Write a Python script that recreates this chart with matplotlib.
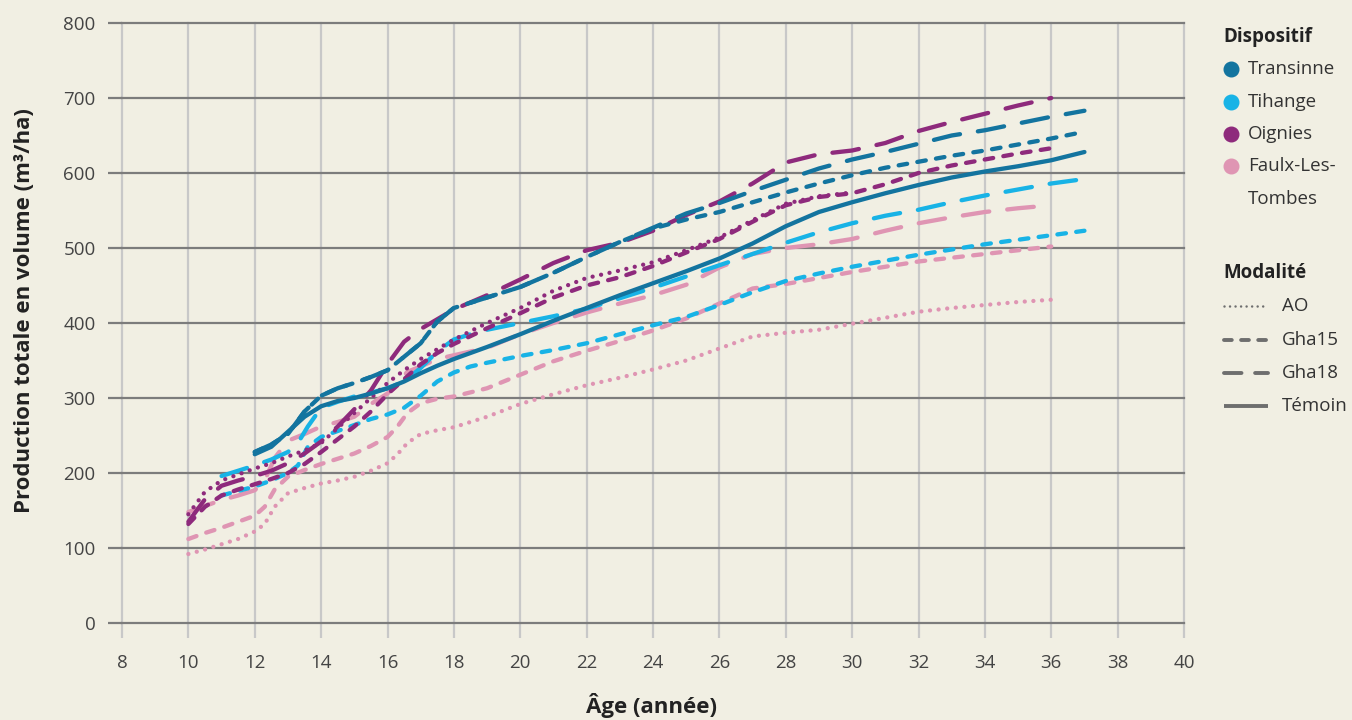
import matplotlib.pyplot as plt
from matplotlib.lines import Line2D

# --- data (age in years, volume in m3/ha) ---
tr_age = [12, 12.5, 13, 13.5, 14, 14.5, 15, 15.5, 16, 16.5, 17, 17.5, 18, 19, 20, 21, 22, 23, 24,
          25, 26, 27, 28, 29, 30, 31, 32, 33, 34, 35, 36, 37]
tr_gha15 = [228, 238, 252, 282, 303, 313, 320, 328, 337, 355, 373, 402, 420, 434, 448, 467, 488, 508, 526,
            538, 548, 561, 574, 586, 597, 607, 615, 623, 630, 638, 646, 655]
tr_gha18 = [228, 238, 252, 282, 303, 313, 320, 328, 337, 355, 373, 402, 420, 434, 448, 467, 488, 508, 527,
            546, 560, 576, 591, 606, 618, 628, 639, 650, 657, 666, 675, 683]
tr_temoin = [225, 235, 255, 275, 289, 296, 300, 306, 313, 322, 333, 343, 352, 368, 385, 403, 420, 437, 453,
             469, 486, 506, 529, 548, 561, 573, 584, 594, 602, 609, 617, 628]

ti_age = [11, 11.5, 12, 12.5, 13, 13.3, 13.6, 14, 14.5, 15, 15.5, 16, 16.5, 17, 17.5, 18, 18.5,
          19, 20, 21, 22, 23, 24, 25, 26, 27, 28, 29, 30, 31, 32, 33, 34, 35, 36, 37]
ti_gha15 = [170, 176, 182, 190, 200, 210, 235, 248, 256, 264, 272, 278, 287, 303, 322, 334, 342,
            347, 356, 364, 373, 385, 397, 408, 424, 441, 456, 466, 475, 483, 491, 498, 505, 511, 517, 523]
ti_gha18 = [196, 203, 210, 218, 228, 240, 262, 287, 295, 302, 307, 313, 322, 340, 362, 378, 385,
            391, 400, 409, 419, 433, 447, 462, 477, 492, 507, 521, 533, 543, 551, 561, 570, 578, 586, 592]

oi_age = [10, 10.5, 11, 11.5, 12, 12.5, 13, 13.5, 14, 14.5, 15, 15.5, 16, 16.5, 17, 17.5, 18,
          19, 20, 21, 22, 23, 24, 25, 26, 27, 28, 29, 30, 31, 32, 33, 34, 35, 36]
oi_gha18 = [135, 165, 183, 190, 196, 203, 213, 226, 242, 262, 285, 310, 345, 375, 392, 405, 418,
            437, 458, 480, 497, 507, 523, 544, 562, 586, 614, 625, 630, 640, 656, 668, 679, 690, 700]
oi_gha15 = [132, 155, 170, 178, 185, 192, 200, 212, 228, 245, 262, 282, 305, 325, 345, 360, 372,
            393, 413, 434, 450, 461, 476, 494, 512, 535, 557, 568, 573, 585, 600, 610, 618, 626, 633]
oi_ao_age = [10, 10.5, 11, 11.5, 12, 12.5, 13, 13.5, 14, 14.5, 15, 15.5, 16, 16.5, 17, 17.5, 18,
             19, 20, 21, 22, 23, 24, 25, 26, 27, 28, 29, 30]
oi_ao = [145, 175, 190, 198, 206, 213, 222, 230, 240, 260, 280, 300, 320, 337, 352, 365, 378,
         400, 420, 443, 460, 470, 481, 497, 514, 537, 559, 569, 574]

fa_age = [10, 10.5, 11, 11.5, 12, 12.3, 12.6, 13, 13.5, 14, 14.5, 15, 15.5, 16, 16.3, 16.6, 17, 17.5, 18,
          19, 20, 21, 22, 23, 24, 25, 26, 27, 28, 29, 30, 31, 32, 33, 34, 35, 36]
fa_ao = [92, 98, 105, 112, 122, 132, 155, 173, 180, 186, 190, 195, 203, 213, 225, 240, 252, 257, 261,
         275, 292, 305, 317, 327, 338, 350, 366, 382, 387, 391, 399, 407, 415, 420, 424, 428, 431]
fa_gha15 = [112, 120, 127, 135, 143, 155, 178, 195, 204, 212, 219, 226, 236, 248, 262, 280, 293, 299, 302,
            313, 331, 349, 363, 376, 390, 406, 426, 446, 452, 460, 468, 475, 482, 487, 492, 497, 502]
fa_gha18 = [148, 156, 164, 170, 177, 190, 220, 243, 252, 262, 268, 275, 292, 306, 320, 335, 342, 352, 357,
            367, 385, 400, 414, 426, 437, 451, 474, 492, 500, 505, 512, 523, 533, 541, 548, 553, 557]

sites = ["Transinne", "Tihange", "Oignies", "Faulx-Les-\nTombes"]
site_colors = ["#13749f", "#18b3e6", "#8e2a7c", "#df95b3"]
modalites = ["AO", "Gha15", "Gha18", "Témoin"]

series = [
    (fa_age, fa_ao, 3, "AO"),
    (fa_age, fa_gha15, 3, "Gha15"),
    (fa_age, fa_gha18, 3, "Gha18"),
    (ti_age, ti_gha15, 1, "Gha15"),
    (ti_age, ti_gha18, 1, "Gha18"),
    (oi_ao_age, oi_ao, 2, "AO"),
    (oi_age, oi_gha15, 2, "Gha15"),
    (oi_age, oi_gha18, 2, "Gha18"),
    (tr_age, tr_temoin, 0, "Témoin"),
    (tr_age, tr_gha15, 0, "Gha15"),
    (tr_age, tr_gha18, 0, "Gha18"),
]

# dash patterns (in units of linewidth)
dash_styles = {"AO": (0.01, 2.0), "Gha15": (2.0, 2.4), "Gha18": (6.2, 4.2), "Témoin": None}

bg = "#f1efe3"
plt.rcParams['font.family'] = ['Open Sans', 'DejaVu Sans']

fig = plt.figure(figsize=(13.52, 7.2), dpi=100)
fig.patch.set_facecolor(bg)
ax = fig.add_axes([122 / 1352, 1 - 623 / 720, (1184 - 122) / 1352, 600 / 720])
ax.set_facecolor(bg)

for ages, vals, si, mod in series:
    lw = 3.1
    line, = ax.plot(ages, vals, color=site_colors[si], lw=lw,
                    solid_capstyle='round', dash_capstyle='round', solid_joinstyle='round')
    if dash_styles[mod] is not None:
        line.set_dashes(dash_styles[mod])

ax.set_xlim(8, 40)
ax.set_ylim(0, 800)
ax.set_xticks(range(8, 41, 2))
ax.set_yticks(range(0, 801, 100))
for s in ax.spines.values():
    s.set_visible(False)
ax.set_axisbelow(True)
ax.grid(axis='x', color='#c8c8c8', lw=1.6)
ax.grid(axis='y', color='#7c7c7c', lw=1.6)
for gl in ax.get_xgridlines() + ax.get_ygridlines():
    gl.set_clip_on(False)
ax.tick_params(axis='x', length=11, width=1.6, color='#c8c8c8', pad=11,
               labelsize=13.5, labelcolor='#444444')
ax.tick_params(axis='y', length=10, width=1.6, color='#7c7c7c', pad=9,
               labelsize=13.5, labelcolor='#444444')

fig.text(25 / 1352, 1 - 311 / 720, "Production totale en volume (m³/ha)", rotation=90,
         ha='center', va='center', fontsize=16, fontweight='bold', color='#222222')
fig.text(652 / 1352, 1 - 705 / 720, "Âge (année)", ha='center', va='center',
         fontsize=16, fontweight='bold', color='#222222')

# legend, drawn in figure pixel coordinates
W, H = 1352, 720
def fx(px):
    return px / W
def fy(py):
    return 1 - py / H

fig.text(fx(1223), fy(37), "Dispositif", ha='left', va='center', fontsize=13.5,
         fontweight='bold', color='#222222')
site_y = [69, 102, 134, 166]
for col, y in zip(site_colors, site_y):
    fig.add_artist(Line2D([fx(1231)], [fy(y)], marker='o', markersize=10.5, color=col,
                          linestyle='none', transform=fig.transFigure))
for name, y in zip(["Transinne", "Tihange", "Oignies", "Faulx-Les-", "Tombes"], [69, 102, 134, 166, 199]):
    fig.text(fx(1248), fy(y), name, ha='left', va='center', fontsize=13.5, color='#333333')

fig.text(fx(1223), fy(273), "Modalité", ha='left', va='center', fontsize=13.5,
         fontweight='bold', color='#222222')
mod_y = [306, 340, 373, 406]
legend_dashes = {"AO": (0.01, 2.2), "Gha15": (2.0, 2.4), "Gha18": (4.5, 3.5), "Témoin": None}
for mod, y in zip(modalites, mod_y):
    lw = 1.8 if mod == "AO" else 2.8
    ln = Line2D([fx(1224), fx(1268)], [fy(y), fy(y)], color='#6e6e6e', lw=lw,
                dash_capstyle='round', solid_capstyle='butt', transform=fig.transFigure)
    if legend_dashes[mod] is not None:
        ln.set_dashes(legend_dashes[mod])
    fig.add_artist(ln)
    fig.text(fx(1282), fy(y), mod, ha='left', va='center', fontsize=13.5, color='#333333')

fig.savefig("out.png", dpi=100, facecolor=bg)
